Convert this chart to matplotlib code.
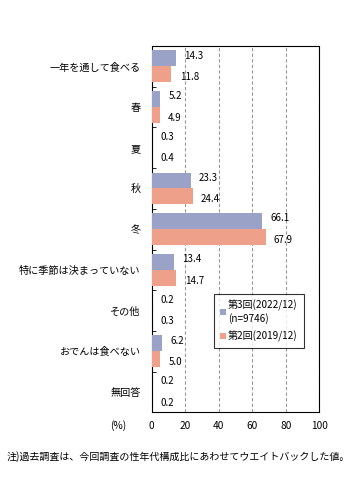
import matplotlib
matplotlib.use("Agg")
import matplotlib.pyplot as plt
import numpy as np

plt.rcParams['font.family'] = ['Noto Sans CJK JP', 'DejaVu Sans']

categories = ["一年を通して食べる", "春", "夏", "秋", "冬", "特に季節は決まっていない", "その他", "おでんは食べない", "無回答"]
series3 = [14.3, 5.2, 0.3, 23.3, 66.1, 13.4, 0.2, 6.2, 0.2]
series2 = [11.8, 4.9, 0.4, 24.4, 67.9, 14.7, 0.3, 5.0, 0.2]
label3 = "第3回(2022/12)\n(n=9746)"
label2 = "第2回(2019/12)"
xticks = [0, 20, 40, 60, 80, 100]
note = "注)過去調査は、今回調査の性年代構成比にあわせてウエイトバックした値。"

c3 = "#9aa2c8"
c2 = "#eea08a"

fig = plt.figure(figsize=(3.57, 4.88), dpi=100)
W, H = 357, 488
L, R, T, B = 151.7, 319.3, 46, 412.3
ax = fig.add_axes([L / W, 1 - B / H, (R - L) / W, (B - T) / H])

n = len(categories)
y = np.arange(n)
bh = 0.39
ax.barh(y - bh / 2, series3, height=bh, color=c3, label=label3, zorder=3)
ax.barh(y + bh / 2, series2, height=bh, color=c2, label=label2, zorder=3)

for i in range(n):
    ax.annotate(f"{series3[i]:.1f}", (series3[i], y[i] - bh / 2), xytext=(6, 2),
                textcoords="offset points", va="center", ha="left", fontsize=7)
    ax.annotate(f"{series2[i]:.1f}", (series2[i], y[i] + bh / 2), xytext=(6, -2),
                textcoords="offset points", va="center", ha="left", fontsize=7)

ax.set_xlim(0, 100)
ax.set_ylim(n - 0.5, -0.5)
ax.set_xticks(xticks)
ax.set_xticklabels([str(v) for v in xticks], fontsize=7.3)
ax.set_yticks(y)
ax.set_yticklabels(categories, fontsize=7.3)
ax.set_yticks(np.arange(n + 1) - 0.5, minor=True)
ax.tick_params(axis='y', which='major', length=0, pad=8)
ax.tick_params(axis='y', which='minor', length=3, direction='in')
ax.tick_params(axis='x', length=0, pad=6)
ax.xaxis.grid(True, linestyle=(0, (3, 2)), color="#999999", linewidth=0.8, zorder=0)
for s in ax.spines.values():
    s.set_linewidth(0.8)
    s.set_color("black")

leg = ax.legend(loc="upper left", bbox_to_anchor=((214 - L) / (R - L), 1 - (294 - T) / (B - T)),
                fontsize=7.2, frameon=True, fancybox=False, edgecolor="black",
                handlelength=0.55, handleheight=0.55, handletextpad=0.25, borderpad=0.6,
                labelspacing=0.7, borderaxespad=0)
leg.get_frame().set_linewidth(0.8)

fig.text(110 / W, 1 - 426 / H, "(%)", fontsize=7.3, ha="left", va="center")
fig.text(7 / W, 1 - 457 / H, note, fontsize=7.2, ha="left", va="center")

fig.savefig("out.png", dpi=100)
